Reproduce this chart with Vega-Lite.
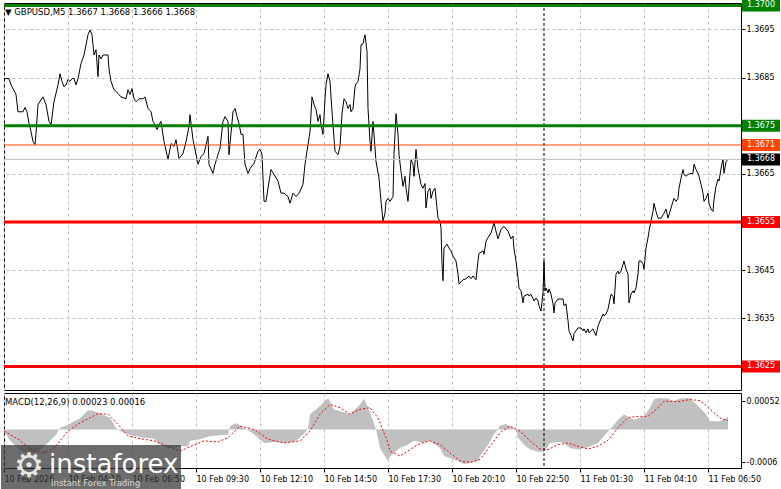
{
"$schema":"https://vega.github.io/schema/vega-lite/v6.json",
"background":"white",
"padding":{"left":0,"top":-2,"right":0,"bottom":0},
"spacing":1,
"config":{
"view":{"stroke":"black","strokeWidth":1},
"axis":{"labelFont":"DejaVu Sans","labelFontSize":8,"labelColor":"black","tickColor":"black","tickSize":4,"labelPadding":1,"domain":false,"gridColor":"#c0c0c0","gridDash":[3,3],"gridWidth":1},
"title":{"font":"DejaVu Sans","fontSize":8.5,"fontWeight":"normal","color":"black","anchor":"start"}
},
"datasets":{
"price":[
{"t":"2026-02-10T01:30:00Z","p":1.36848},{"t":"2026-02-10T01:42:30Z","p":1.36848},{"t":"2026-02-10T01:47:30Z","p":1.36835},{"t":"2026-02-10T02:00:00Z","p":1.36815},{"t":"2026-02-10T02:05:00Z","p":1.36779},{"t":"2026-02-10T02:17:30Z","p":1.36779},{"t":"2026-02-10T02:22:30Z","p":1.36788},{"t":"2026-02-10T02:27:30Z","p":1.36779},{"t":"2026-02-10T02:32:30Z","p":1.36755},{"t":"2026-02-10T02:37:30Z","p":1.36738},{"t":"2026-02-10T02:42:30Z","p":1.36717},{"t":"2026-02-10T02:47:30Z","p":1.36711},{"t":"2026-02-10T02:50:00Z","p":1.36734},{"t":"2026-02-10T02:55:00Z","p":1.36794},{"t":"2026-02-10T03:07:30Z","p":1.3681},{"t":"2026-02-10T03:15:00Z","p":1.36794},{"t":"2026-02-10T03:22:30Z","p":1.36759},{"t":"2026-02-10T03:27:30Z","p":1.36752},{"t":"2026-02-10T03:35:00Z","p":1.368},{"t":"2026-02-10T03:45:00Z","p":1.36835},{"t":"2026-02-10T03:50:00Z","p":1.36858},{"t":"2026-02-10T03:55:00Z","p":1.36842},{"t":"2026-02-10T04:00:00Z","p":1.36831},{"t":"2026-02-10T04:05:00Z","p":1.36835},{"t":"2026-02-10T04:10:00Z","p":1.36846},{"t":"2026-02-10T04:15:00Z","p":1.36842},{"t":"2026-02-10T04:20:00Z","p":1.36848},{"t":"2026-02-10T04:25:00Z","p":1.36848},{"t":"2026-02-10T04:30:00Z","p":1.36835},{"t":"2026-02-10T04:35:00Z","p":1.36848},{"t":"2026-02-10T04:42:30Z","p":1.36879},{"t":"2026-02-10T04:50:00Z","p":1.36897},{"t":"2026-02-10T05:00:00Z","p":1.36939},{"t":"2026-02-10T05:05:00Z","p":1.36949},{"t":"2026-02-10T05:10:00Z","p":1.36939},{"t":"2026-02-10T05:15:00Z","p":1.36897},{"t":"2026-02-10T05:20:00Z","p":1.36908},{"t":"2026-02-10T05:25:00Z","p":1.36852},{"t":"2026-02-10T05:27:30Z","p":1.36897},{"t":"2026-02-10T05:32:30Z","p":1.36889},{"t":"2026-02-10T05:37:30Z","p":1.36897},{"t":"2026-02-10T05:45:00Z","p":1.36897},{"t":"2026-02-10T05:50:00Z","p":1.36897},{"t":"2026-02-10T05:52:30Z","p":1.36868},{"t":"2026-02-10T05:57:30Z","p":1.36842},{"t":"2026-02-10T06:05:00Z","p":1.36825},{"t":"2026-02-10T06:15:00Z","p":1.36817},{"t":"2026-02-10T06:22:30Z","p":1.3681},{"t":"2026-02-10T06:35:00Z","p":1.36806},{"t":"2026-02-10T06:40:00Z","p":1.36825},{"t":"2026-02-10T06:45:00Z","p":1.36815},{"t":"2026-02-10T06:50:00Z","p":1.36827},{"t":"2026-02-10T06:55:00Z","p":1.36806},{"t":"2026-02-10T07:00:00Z","p":1.368},{"t":"2026-02-10T07:07:30Z","p":1.36806},{"t":"2026-02-10T07:17:30Z","p":1.36806},{"t":"2026-02-10T07:22:30Z","p":1.3681},{"t":"2026-02-10T07:30:00Z","p":1.36786},{"t":"2026-02-10T07:37:30Z","p":1.36779},{"t":"2026-02-10T07:42:30Z","p":1.36759},{"t":"2026-02-10T07:47:30Z","p":1.36752},{"t":"2026-02-10T07:52:30Z","p":1.36742},{"t":"2026-02-10T07:57:30Z","p":1.36752},{"t":"2026-02-10T08:02:30Z","p":1.36759},{"t":"2026-02-10T08:10:00Z","p":1.36717},{"t":"2026-02-10T08:20:00Z","p":1.3668},{"t":"2026-02-10T08:27:30Z","p":1.36713},{"t":"2026-02-10T08:35:00Z","p":1.36707},{"t":"2026-02-10T08:40:00Z","p":1.36721},{"t":"2026-02-10T08:47:30Z","p":1.36682},{"t":"2026-02-10T08:57:30Z","p":1.36692},{"t":"2026-02-10T09:05:00Z","p":1.36717},{"t":"2026-02-10T09:12:30Z","p":1.36748},{"t":"2026-02-10T09:15:00Z","p":1.36773},{"t":"2026-02-10T09:22:30Z","p":1.36721},{"t":"2026-02-10T09:35:00Z","p":1.3667},{"t":"2026-02-10T09:42:30Z","p":1.36686},{"t":"2026-02-10T09:50:00Z","p":1.36692},{"t":"2026-02-10T10:00:00Z","p":1.36728},{"t":"2026-02-10T10:02:30Z","p":1.3667},{"t":"2026-02-10T10:12:30Z","p":1.36651},{"t":"2026-02-10T10:17:30Z","p":1.3667},{"t":"2026-02-10T10:25:00Z","p":1.3669},{"t":"2026-02-10T10:30:00Z","p":1.36703},{"t":"2026-02-10T10:37:30Z","p":1.36759},{"t":"2026-02-10T10:42:30Z","p":1.36769},{"t":"2026-02-10T10:50:00Z","p":1.36759},{"t":"2026-02-10T10:52:30Z","p":1.3669},{"t":"2026-02-10T11:02:30Z","p":1.36779},{"t":"2026-02-10T11:07:30Z","p":1.36786},{"t":"2026-02-10T11:12:30Z","p":1.36769},{"t":"2026-02-10T11:17:30Z","p":1.36755},{"t":"2026-02-10T11:22:30Z","p":1.36732},{"t":"2026-02-10T11:27:30Z","p":1.36732},{"t":"2026-02-10T11:32:30Z","p":1.3667},{"t":"2026-02-10T11:40:00Z","p":1.36651},{"t":"2026-02-10T11:45:00Z","p":1.36661},{"t":"2026-02-10T11:55:00Z","p":1.36672},{"t":"2026-02-10T12:05:00Z","p":1.36697},{"t":"2026-02-10T12:10:00Z","p":1.36701},{"t":"2026-02-10T12:15:00Z","p":1.3669},{"t":"2026-02-10T12:20:00Z","p":1.36593},{"t":"2026-02-10T12:25:00Z","p":1.36593},{"t":"2026-02-10T12:30:00Z","p":1.3662},{"t":"2026-02-10T12:37:30Z","p":1.36659},{"t":"2026-02-10T12:45:00Z","p":1.36649},{"t":"2026-02-10T12:55:00Z","p":1.36635},{"t":"2026-02-10T13:02:30Z","p":1.3661},{"t":"2026-02-10T13:10:00Z","p":1.3661},{"t":"2026-02-10T13:20:00Z","p":1.36603},{"t":"2026-02-10T13:25:00Z","p":1.36589},{"t":"2026-02-10T13:32:30Z","p":1.3661},{"t":"2026-02-10T13:40:00Z","p":1.36603},{"t":"2026-02-10T13:47:30Z","p":1.3661},{"t":"2026-02-10T13:57:30Z","p":1.36628},{"t":"2026-02-10T14:02:30Z","p":1.3667},{"t":"2026-02-10T14:10:00Z","p":1.36711},{"t":"2026-02-10T14:15:00Z","p":1.36738},{"t":"2026-02-10T14:20:00Z","p":1.3681},{"t":"2026-02-10T14:25:00Z","p":1.36794},{"t":"2026-02-10T14:30:00Z","p":1.36784},{"t":"2026-02-10T14:35:00Z","p":1.36759},{"t":"2026-02-10T14:40:00Z","p":1.36773},{"t":"2026-02-10T14:42:30Z","p":1.36752},{"t":"2026-02-10T14:47:30Z","p":1.36732},{"t":"2026-02-10T14:52:30Z","p":1.36806},{"t":"2026-02-10T14:55:00Z","p":1.36835},{"t":"2026-02-10T15:00:00Z","p":1.36858},{"t":"2026-02-10T15:05:00Z","p":1.36842},{"t":"2026-02-10T15:10:00Z","p":1.36779},{"t":"2026-02-10T15:12:30Z","p":1.36752},{"t":"2026-02-10T15:17:30Z","p":1.36697},{"t":"2026-02-10T15:25:00Z","p":1.3669},{"t":"2026-02-10T15:30:00Z","p":1.36707},{"t":"2026-02-10T15:35:00Z","p":1.36775},{"t":"2026-02-10T15:40:00Z","p":1.36806},{"t":"2026-02-10T15:45:00Z","p":1.368},{"t":"2026-02-10T15:50:00Z","p":1.36786},{"t":"2026-02-10T15:55:00Z","p":1.36794},{"t":"2026-02-10T15:57:30Z","p":1.36779},{"t":"2026-02-10T16:02:30Z","p":1.36786},{"t":"2026-02-10T16:07:30Z","p":1.36831},{"t":"2026-02-10T16:10:00Z","p":1.36837},{"t":"2026-02-10T16:15:00Z","p":1.36842},{"t":"2026-02-10T16:20:00Z","p":1.36868},{"t":"2026-02-10T16:22:30Z","p":1.36918},{"t":"2026-02-10T16:27:30Z","p":1.3692},{"t":"2026-02-10T16:30:00Z","p":1.36931},{"t":"2026-02-10T16:32:30Z","p":1.36939},{"t":"2026-02-10T16:37:30Z","p":1.36904},{"t":"2026-02-10T16:40:00Z","p":1.36786},{"t":"2026-02-10T16:42:30Z","p":1.36752},{"t":"2026-02-10T16:45:00Z","p":1.36717},{"t":"2026-02-10T16:47:30Z","p":1.36697},{"t":"2026-02-10T16:52:30Z","p":1.36759},{"t":"2026-02-10T17:00:00Z","p":1.36676},{"t":"2026-02-10T17:07:30Z","p":1.36641},{"t":"2026-02-10T17:12:30Z","p":1.36593},{"t":"2026-02-10T17:17:30Z","p":1.36552},{"t":"2026-02-10T17:22:30Z","p":1.36568},{"t":"2026-02-10T17:25:00Z","p":1.36593},{"t":"2026-02-10T17:30:00Z","p":1.36599},{"t":"2026-02-10T17:35:00Z","p":1.36593},{"t":"2026-02-10T17:42:30Z","p":1.36603},{"t":"2026-02-10T17:45:00Z","p":1.3669},{"t":"2026-02-10T17:50:00Z","p":1.36775},{"t":"2026-02-10T17:55:00Z","p":1.36732},{"t":"2026-02-10T17:57:30Z","p":1.3669},{"t":"2026-02-10T18:02:30Z","p":1.36655},{"t":"2026-02-10T18:07:30Z","p":1.36624},{"t":"2026-02-10T18:12:30Z","p":1.36645},{"t":"2026-02-10T18:15:00Z","p":1.3662},{"t":"2026-02-10T18:20:00Z","p":1.36593},{"t":"2026-02-10T18:27:30Z","p":1.3668},{"t":"2026-02-10T18:32:30Z","p":1.3667},{"t":"2026-02-10T18:35:00Z","p":1.36645},{"t":"2026-02-10T18:40:00Z","p":1.36701},{"t":"2026-02-10T18:45:00Z","p":1.36661},{"t":"2026-02-10T18:52:30Z","p":1.36628},{"t":"2026-02-10T18:57:30Z","p":1.3662},{"t":"2026-02-10T19:02:30Z","p":1.3663},{"t":"2026-02-10T19:05:00Z","p":1.36579},{"t":"2026-02-10T19:10:00Z","p":1.36614},{"t":"2026-02-10T19:15:00Z","p":1.3662},{"t":"2026-02-10T19:17:30Z","p":1.36599},{"t":"2026-02-10T19:22:30Z","p":1.36614},{"t":"2026-02-10T19:27:30Z","p":1.3662},{"t":"2026-02-10T19:30:00Z","p":1.36599},{"t":"2026-02-10T19:35:00Z","p":1.36558},{"t":"2026-02-10T19:40:00Z","p":1.36552},{"t":"2026-02-10T19:42:30Z","p":1.36537},{"t":"2026-02-10T19:45:00Z","p":1.36463},{"t":"2026-02-10T19:47:30Z","p":1.36428},{"t":"2026-02-10T19:50:00Z","p":1.36496},{"t":"2026-02-10T19:57:30Z","p":1.36504},{"t":"2026-02-10T20:02:30Z","p":1.36496},{"t":"2026-02-10T20:07:30Z","p":1.3649},{"t":"2026-02-10T20:12:30Z","p":1.36479},{"t":"2026-02-10T20:20:00Z","p":1.36469},{"t":"2026-02-10T20:25:00Z","p":1.36442},{"t":"2026-02-10T20:27:30Z","p":1.36421},{"t":"2026-02-10T20:37:30Z","p":1.3643},{"t":"2026-02-10T20:45:00Z","p":1.36432},{"t":"2026-02-10T20:52:30Z","p":1.36438},{"t":"2026-02-10T20:57:30Z","p":1.36432},{"t":"2026-02-10T21:02:30Z","p":1.36438},{"t":"2026-02-10T21:10:00Z","p":1.3643},{"t":"2026-02-10T21:15:00Z","p":1.36469},{"t":"2026-02-10T21:17:30Z","p":1.36485},{"t":"2026-02-10T21:27:30Z","p":1.3649},{"t":"2026-02-10T21:30:00Z","p":1.36483},{"t":"2026-02-10T21:35:00Z","p":1.3651},{"t":"2026-02-10T21:42:30Z","p":1.36521},{"t":"2026-02-10T21:47:30Z","p":1.36527},{"t":"2026-02-10T21:55:00Z","p":1.36548},{"t":"2026-02-10T22:00:00Z","p":1.36531},{"t":"2026-02-10T22:05:00Z","p":1.36515},{"t":"2026-02-10T22:12:30Z","p":1.36535},{"t":"2026-02-10T22:20:00Z","p":1.36541},{"t":"2026-02-10T22:30:00Z","p":1.36531},{"t":"2026-02-10T22:37:30Z","p":1.36515},{"t":"2026-02-10T22:42:30Z","p":1.36521},{"t":"2026-02-10T22:45:00Z","p":1.36494},{"t":"2026-02-10T22:50:00Z","p":1.36469},{"t":"2026-02-10T22:55:00Z","p":1.36434},{"t":"2026-02-10T22:57:30Z","p":1.36413},{"t":"2026-02-10T23:02:30Z","p":1.36407},{"t":"2026-02-10T23:07:30Z","p":1.36382},{"t":"2026-02-10T23:10:00Z","p":1.36396},{"t":"2026-02-10T23:20:00Z","p":1.364},{"t":"2026-02-10T23:22:30Z","p":1.36396},{"t":"2026-02-10T23:27:30Z","p":1.364},{"t":"2026-02-10T23:35:00Z","p":1.36386},{"t":"2026-02-10T23:40:00Z","p":1.36392},{"t":"2026-02-10T23:45:00Z","p":1.36386},{"t":"2026-02-10T23:47:30Z","p":1.36376},{"t":"2026-02-10T23:52:30Z","p":1.36365},{"t":"2026-02-10T23:57:30Z","p":1.36403},{"t":"2026-02-11T00:00:00Z","p":1.36469},{"t":"2026-02-11T00:02:30Z","p":1.36407},{"t":"2026-02-11T00:05:00Z","p":1.36413},{"t":"2026-02-11T00:10:00Z","p":1.36403},{"t":"2026-02-11T00:12:30Z","p":1.36411},{"t":"2026-02-11T00:17:30Z","p":1.364},{"t":"2026-02-11T00:22:30Z","p":1.3638},{"t":"2026-02-11T00:25:00Z","p":1.36361},{"t":"2026-02-11T00:27:30Z","p":1.36382},{"t":"2026-02-11T00:35:00Z","p":1.3639},{"t":"2026-02-11T00:42:30Z","p":1.3639},{"t":"2026-02-11T00:47:30Z","p":1.3639},{"t":"2026-02-11T00:50:00Z","p":1.36376},{"t":"2026-02-11T00:55:00Z","p":1.3638},{"t":"2026-02-11T01:00:00Z","p":1.36345},{"t":"2026-02-11T01:02:30Z","p":1.36324},{"t":"2026-02-11T01:07:30Z","p":1.36314},{"t":"2026-02-11T01:12:30Z","p":1.36303},{"t":"2026-02-11T01:15:00Z","p":1.36318},{"t":"2026-02-11T01:25:00Z","p":1.3633},{"t":"2026-02-11T01:32:30Z","p":1.3633},{"t":"2026-02-11T01:37:30Z","p":1.36324},{"t":"2026-02-11T01:40:00Z","p":1.36328},{"t":"2026-02-11T01:45:00Z","p":1.3632},{"t":"2026-02-11T01:50:00Z","p":1.36328},{"t":"2026-02-11T01:52:30Z","p":1.3632},{"t":"2026-02-11T02:02:30Z","p":1.36328},{"t":"2026-02-11T02:10:00Z","p":1.36314},{"t":"2026-02-11T02:15:00Z","p":1.36334},{"t":"2026-02-11T02:22:30Z","p":1.36349},{"t":"2026-02-11T02:27:30Z","p":1.36359},{"t":"2026-02-11T02:30:00Z","p":1.36355},{"t":"2026-02-11T02:35:00Z","p":1.36359},{"t":"2026-02-11T02:40:00Z","p":1.36369},{"t":"2026-02-11T02:47:30Z","p":1.364},{"t":"2026-02-11T02:52:30Z","p":1.36396},{"t":"2026-02-11T02:55:00Z","p":1.3638},{"t":"2026-02-11T03:00:00Z","p":1.36442},{"t":"2026-02-11T03:05:00Z","p":1.36448},{"t":"2026-02-11T03:07:30Z","p":1.36442},{"t":"2026-02-11T03:12:30Z","p":1.36448},{"t":"2026-02-11T03:20:00Z","p":1.36469},{"t":"2026-02-11T03:25:00Z","p":1.36452},{"t":"2026-02-11T03:30:00Z","p":1.36442},{"t":"2026-02-11T03:32:30Z","p":1.36382},{"t":"2026-02-11T03:37:30Z","p":1.364},{"t":"2026-02-11T03:42:30Z","p":1.36407},{"t":"2026-02-11T03:45:00Z","p":1.36403},{"t":"2026-02-11T03:50:00Z","p":1.36413},{"t":"2026-02-11T03:55:00Z","p":1.36442},{"t":"2026-02-11T03:57:30Z","p":1.36469},{"t":"2026-02-11T04:02:30Z","p":1.36469},{"t":"2026-02-11T04:07:30Z","p":1.36463},{"t":"2026-02-11T04:10:00Z","p":1.36452},{"t":"2026-02-11T04:15:00Z","p":1.36496},{"t":"2026-02-11T04:20:00Z","p":1.36517},{"t":"2026-02-11T04:22:30Z","p":1.36531},{"t":"2026-02-11T04:27:30Z","p":1.36552},{"t":"2026-02-11T04:32:30Z","p":1.36572},{"t":"2026-02-11T04:35:00Z","p":1.36589},{"t":"2026-02-11T04:40:00Z","p":1.36572},{"t":"2026-02-11T04:45:00Z","p":1.36558},{"t":"2026-02-11T04:52:30Z","p":1.36558},{"t":"2026-02-11T05:00:00Z","p":1.36568},{"t":"2026-02-11T05:05:00Z","p":1.36577},{"t":"2026-02-11T05:10:00Z","p":1.36558},{"t":"2026-02-11T05:17:30Z","p":1.36579},{"t":"2026-02-11T05:22:30Z","p":1.36593},{"t":"2026-02-11T05:25:00Z","p":1.36599},{"t":"2026-02-11T05:30:00Z","p":1.36593},{"t":"2026-02-11T05:35:00Z","p":1.36599},{"t":"2026-02-11T05:37:30Z","p":1.3662},{"t":"2026-02-11T05:42:30Z","p":1.36641},{"t":"2026-02-11T05:47:30Z","p":1.36659},{"t":"2026-02-11T05:50:00Z","p":1.36649},{"t":"2026-02-11T05:55:00Z","p":1.36645},{"t":"2026-02-11T06:00:00Z","p":1.36649},{"t":"2026-02-11T06:07:30Z","p":1.36651},{"t":"2026-02-11T06:12:30Z","p":1.36651},{"t":"2026-02-11T06:15:00Z","p":1.3667},{"t":"2026-02-11T06:20:00Z","p":1.36659},{"t":"2026-02-11T06:25:00Z","p":1.36651},{"t":"2026-02-11T06:27:30Z","p":1.36645},{"t":"2026-02-11T06:32:30Z","p":1.36628},{"t":"2026-02-11T06:37:30Z","p":1.3661},{"t":"2026-02-11T06:40:00Z","p":1.36593},{"t":"2026-02-11T06:45:00Z","p":1.36599},{"t":"2026-02-11T06:50:00Z","p":1.3661},{"t":"2026-02-11T06:52:30Z","p":1.36589},{"t":"2026-02-11T06:57:30Z","p":1.36577},{"t":"2026-02-11T07:02:30Z","p":1.36572},{"t":"2026-02-11T07:05:00Z","p":1.36597},{"t":"2026-02-11T07:10:00Z","p":1.36624},{"t":"2026-02-11T07:15:00Z","p":1.36639},{"t":"2026-02-11T07:17:30Z","p":1.36635},{"t":"2026-02-11T07:22:30Z","p":1.36661},{"t":"2026-02-11T07:27:30Z","p":1.3668},{"t":"2026-02-11T07:30:00Z","p":1.36651},{"t":"2026-02-11T07:35:00Z","p":1.36676},{"t":"2026-02-11T07:40:00Z","p":1.3668}
],
"hist":[
{"t":"2026-02-10T01:30Z","v":-0.00003},{"t":"2026-02-10T01:45Z","v":-0.0002},{"t":"2026-02-10T02:05Z","v":-0.00035},{"t":"2026-02-10T02:30Z","v":-0.00045},{"t":"2026-02-10T02:55Z","v":-0.0004},{"t":"2026-02-10T03:20Z","v":-0.00025},{"t":"2026-02-10T03:40Z","v":-0.0001},{"t":"2026-02-10T03:50Z","v":0.00003},{"t":"2026-02-10T04:10Z","v":0.00008},{"t":"2026-02-10T04:25Z","v":0.00015},{"t":"2026-02-10T04:40Z","v":0.0002},{"t":"2026-02-10T04:50Z","v":0.00028},{"t":"2026-02-10T05:00Z","v":0.00035},{"t":"2026-02-10T05:10Z","v":0.00035},{"t":"2026-02-10T05:25Z","v":0.00031},{"t":"2026-02-10T05:40Z","v":0.00026},{"t":"2026-02-10T05:55Z","v":0.00021},{"t":"2026-02-10T06:10Z","v":0.00003},{"t":"2026-02-10T06:20Z","v":-0.00003},{"t":"2026-02-10T06:40Z","v":-0.00009},{"t":"2026-02-10T06:55Z","v":-0.00012},{"t":"2026-02-10T07:20Z","v":-0.00015},{"t":"2026-02-10T07:45Z","v":-0.00017},{"t":"2026-02-10T08:00Z","v":-0.00028},{"t":"2026-02-10T08:20Z","v":-0.00034},{"t":"2026-02-10T08:35Z","v":-0.00034},{"t":"2026-02-10T08:50Z","v":-0.00031},{"t":"2026-02-10T09:10Z","v":-0.00031},{"t":"2026-02-10T09:15Z","v":-0.00021},{"t":"2026-02-10T09:40Z","v":-0.00018},{"t":"2026-02-10T10:05Z","v":-0.00012},{"t":"2026-02-10T10:50Z","v":-0.0001},{"t":"2026-02-10T10:55Z","v":0.00006},{"t":"2026-02-10T11:10Z","v":0.00012},{"t":"2026-02-10T11:30Z","v":0.00003},{"t":"2026-02-10T11:55Z","v":-0.00009},{"t":"2026-02-10T12:20Z","v":-0.00025},{"t":"2026-02-10T12:45Z","v":-0.00023},{"t":"2026-02-10T13:10Z","v":-0.00025},{"t":"2026-02-10T13:35Z","v":-0.00023},{"t":"2026-02-10T13:50Z","v":-0.00015},{"t":"2026-02-10T14:10Z","v":0.0},{"t":"2026-02-10T14:15Z","v":0.00028},{"t":"2026-02-10T14:40Z","v":0.00043},{"t":"2026-02-10T15:00Z","v":0.00058},{"t":"2026-02-10T15:15Z","v":0.00037},{"t":"2026-02-10T15:40Z","v":0.00031},{"t":"2026-02-10T15:55Z","v":0.00028},{"t":"2026-02-10T16:20Z","v":0.00046},{"t":"2026-02-10T16:30Z","v":0.00057},{"t":"2026-02-10T16:40Z","v":0.0004},{"t":"2026-02-10T16:50Z","v":0.00021},{"t":"2026-02-10T17:00Z","v":0.0},{"t":"2026-02-10T17:10Z","v":-0.00034},{"t":"2026-02-10T17:30Z","v":-0.00058},{"t":"2026-02-10T17:35Z","v":-0.0005},{"t":"2026-02-10T17:50Z","v":-0.0004},{"t":"2026-02-10T18:00Z","v":-0.00034},{"t":"2026-02-10T18:20Z","v":-0.00028},{"t":"2026-02-10T18:35Z","v":-0.00021},{"t":"2026-02-10T19:00Z","v":-0.00025},{"t":"2026-02-10T19:15Z","v":-0.00021},{"t":"2026-02-10T19:40Z","v":-0.00034},{"t":"2026-02-10T19:50Z","v":-0.00049},{"t":"2026-02-10T20:25Z","v":-0.00058},{"t":"2026-02-10T20:40Z","v":-0.00064},{"t":"2026-02-10T21:15Z","v":-0.00058},{"t":"2026-02-10T21:20Z","v":-0.00049},{"t":"2026-02-10T21:40Z","v":-0.00028},{"t":"2026-02-10T21:55Z","v":-0.00009},{"t":"2026-02-10T22:05Z","v":0.0},{"t":"2026-02-10T22:10Z","v":0.00007},{"t":"2026-02-10T22:25Z","v":0.0001},{"t":"2026-02-10T22:35Z","v":0.00006},{"t":"2026-02-10T22:50Z","v":0.0},{"t":"2026-02-10T22:55Z","v":-0.00015},{"t":"2026-02-10T23:10Z","v":-0.00028},{"t":"2026-02-10T23:25Z","v":-0.00037},{"t":"2026-02-10T23:45Z","v":-0.00041},{"t":"2026-02-11T00:00Z","v":-0.00041},{"t":"2026-02-11T00:15Z","v":-0.00025},{"t":"2026-02-11T00:35Z","v":-0.00023},{"t":"2026-02-11T00:50Z","v":-0.00025},{"t":"2026-02-11T01:05Z","v":-0.00034},{"t":"2026-02-11T01:25Z","v":-0.00037},{"t":"2026-02-11T01:50Z","v":-0.00033},{"t":"2026-02-11T02:15Z","v":-0.00025},{"t":"2026-02-11T02:30Z","v":-0.00012},{"t":"2026-02-11T02:45Z","v":0.0},{"t":"2026-02-11T03:05Z","v":0.00018},{"t":"2026-02-11T03:20Z","v":0.00028},{"t":"2026-02-11T03:35Z","v":0.00021},{"t":"2026-02-11T03:45Z","v":0.00018},{"t":"2026-02-11T04:10Z","v":0.00024},{"t":"2026-02-11T04:25Z","v":0.0004},{"t":"2026-02-11T04:35Z","v":0.00055},{"t":"2026-02-11T04:45Z","v":0.00058},{"t":"2026-02-11T05:10Z","v":0.00057},{"t":"2026-02-11T05:25Z","v":0.00052},{"t":"2026-02-11T05:40Z","v":0.00057},{"t":"2026-02-11T06:05Z","v":0.00058},{"t":"2026-02-11T06:30Z","v":0.0004},{"t":"2026-02-11T06:45Z","v":0.00028},{"t":"2026-02-11T06:55Z","v":0.00015},{"t":"2026-02-11T07:20Z","v":0.00015},{"t":"2026-02-11T07:40Z","v":0.00023}
],
"sig":[
{"t":"2026-02-10T01:30Z","v":-0.00003},{"t":"2026-02-10T02:05Z","v":-0.00018},{"t":"2026-02-10T02:45Z","v":-0.0004},{"t":"2026-02-10T03:10Z","v":-0.00043},{"t":"2026-02-10T03:35Z","v":-0.00034},{"t":"2026-02-10T04:10Z","v":-0.00003},{"t":"2026-02-10T04:40Z","v":0.00012},{"t":"2026-02-10T05:25Z","v":0.00029},{"t":"2026-02-10T05:50Z","v":0.00028},{"t":"2026-02-10T06:15Z","v":0.00009},{"t":"2026-02-10T06:40Z","v":-0.00012},{"t":"2026-02-10T07:10Z","v":-0.00017},{"t":"2026-02-10T07:45Z","v":-0.00021},{"t":"2026-02-10T08:20Z","v":-0.00031},{"t":"2026-02-10T08:50Z","v":-0.0004},{"t":"2026-02-10T09:15Z","v":-0.00032},{"t":"2026-02-10T09:50Z","v":-0.00021},{"t":"2026-02-10T10:25Z","v":-0.00023},{"t":"2026-02-10T10:50Z","v":-0.00015},{"t":"2026-02-10T11:20Z","v":0.00006},{"t":"2026-02-10T11:55Z","v":0.0},{"t":"2026-02-10T12:30Z","v":-0.00018},{"t":"2026-02-10T13:10Z","v":-0.00025},{"t":"2026-02-10T13:50Z","v":-0.00021},{"t":"2026-02-10T14:15Z","v":-0.00003},{"t":"2026-02-10T14:40Z","v":0.00028},{"t":"2026-02-10T15:05Z","v":0.00046},{"t":"2026-02-10T15:30Z","v":0.0004},{"t":"2026-02-10T15:55Z","v":0.00028},{"t":"2026-02-10T16:20Z","v":0.00037},{"t":"2026-02-10T16:45Z","v":0.0004},{"t":"2026-02-10T17:05Z","v":0.00021},{"t":"2026-02-10T17:30Z","v":-0.00025},{"t":"2026-02-10T17:35Z","v":-0.0004},{"t":"2026-02-10T18:00Z","v":-0.00049},{"t":"2026-02-10T18:25Z","v":-0.00037},{"t":"2026-02-10T18:50Z","v":-0.00026},{"t":"2026-02-10T19:15Z","v":-0.00021},{"t":"2026-02-10T19:40Z","v":-0.00028},{"t":"2026-02-10T20:05Z","v":-0.00043},{"t":"2026-02-10T20:30Z","v":-0.00058},{"t":"2026-02-10T20:55Z","v":-0.00061},{"t":"2026-02-10T21:20Z","v":-0.00055},{"t":"2026-02-10T21:45Z","v":-0.00031},{"t":"2026-02-10T22:10Z","v":-0.00006},{"t":"2026-02-10T22:35Z","v":0.00006},{"t":"2026-02-10T23:00Z","v":-0.00003},{"t":"2026-02-10T23:25Z","v":-0.00021},{"t":"2026-02-10T23:50Z","v":-0.00036},{"t":"2026-02-11T00:10Z","v":-0.00037},{"t":"2026-02-11T00:35Z","v":-0.00028},{"t":"2026-02-11T01:00Z","v":-0.00025},{"t":"2026-02-11T01:25Z","v":-0.00031},{"t":"2026-02-11T01:50Z","v":-0.00036},{"t":"2026-02-11T02:15Z","v":-0.00031},{"t":"2026-02-11T02:40Z","v":-0.0002},{"t":"2026-02-11T03:05Z","v":0.00003},{"t":"2026-02-11T03:30Z","v":0.00022},{"t":"2026-02-11T03:55Z","v":0.00024},{"t":"2026-02-11T04:20Z","v":0.00024},{"t":"2026-02-11T04:45Z","v":0.0004},{"t":"2026-02-11T05:00Z","v":0.00052},{"t":"2026-02-11T05:35Z","v":0.00051},{"t":"2026-02-11T06:05Z","v":0.00055},{"t":"2026-02-11T06:30Z","v":0.00053},{"t":"2026-02-11T06:55Z","v":0.00037},{"t":"2026-02-11T07:20Z","v":0.00021},{"t":"2026-02-11T07:40Z","v":0.00016}
],
"levels":[
{"price":1.37,"type":"buy"},{"price":1.3675,"type":"buy"},{"price":1.3671,"type":"ask"},{"price":1.3668,"type":"bid"},{"price":1.3655,"type":"sell"},{"price":1.3625,"type":"sell"}
],
"days":[{"t":"2026-02-11T00:00Z"}],
"brand":[{"name":"instaforex","tagline":"Instant Forex Trading","icon":"⚙"}]
},
"vconcat":[
{
"width":737,"height":387,
"title":{"text":"▼  GBPUSD,M5  1.3667 1.3668 1.3666 1.3668","offset":-17.5,"dx":3},
"resolve":{"scale":{"stroke":"independent"}},
"layer":[
{"data":{"name":"price"},"mark":{"type":"line","color":"black","strokeWidth":1},
"encoding":{
"x":{"field":"t","type":"temporal","scale":{"type":"utc","domain":[1770687000000,1770797550000]},
"axis":{"title":null,"labels":false,"ticks":false,"grid":true,"values":[1770687000000,1770691800000,1770696600000,1770701400000,1770706200000,1770711000000,1770715800000,1770720600000,1770725400000,1770730200000,1770735000000,1770739800000,1770744600000,1770749400000,1770754200000,1770759000000,1770763800000,1770768600000,1770773400000,1770778200000,1770783000000,1770787800000,1770792600000,1770797400000]}},
"y":{"field":"p","type":"quantitative","scale":{"domain":[1.36201,1.37005],"zero":false,"nice":false},
"axis":{"title":null,"orient":"right","values":[1.3625,1.3635,1.3645,1.3655,1.3665,1.3675,1.3685,1.3695],"format":".4f","grid":true,"labelOverlap":false}}
}},
{"data":{"name":"days"},"mark":{"type":"rule","color":"black","strokeDash":[3,2],"strokeWidth":1},
"encoding":{"x":{"field":"t","type":"temporal"}}},
{"data":{"name":"levels"},"transform":[{"filter":"datum.type == 'ask' || datum.type == 'bid'"}],
"mark":{"type":"rule","strokeWidth":1},
"encoding":{
"y":{"field":"price","type":"quantitative"},
"stroke":{"field":"type","type":"nominal","scale":{"domain":["buy","sell","ask","bid"],"range":["#008000","#ff0000","#ff4500","#c0c0c0"]},"legend":null}
}},
{"data":{"name":"levels"},"transform":[{"filter":"datum.type == 'buy' || datum.type == 'sell'"}],
"mark":{"type":"rule","strokeWidth":3,"strokeCap":"butt"},
"encoding":{
"y":{"field":"price","type":"quantitative"},
"stroke":{"field":"type","type":"nominal","scale":{"domain":["buy","sell","ask","bid"],"range":["#008000","#ff0000","#ff4500","#c0c0c0"]},"legend":null}
}},
{"data":{"name":"levels"},"mark":{"type":"rule","strokeWidth":12,"strokeCap":"butt"},
"encoding":{
"x":{"datum":{"year":2026,"month":2,"date":11,"hours":8,"minutes":15,"utc":true},"type":"temporal"},
"x2":{"datum":{"year":2026,"month":2,"date":11,"hours":9,"minutes":50,"utc":true}},
"y":{"field":"price","type":"quantitative"},
"stroke":{"field":"type","type":"nominal","scale":{"domain":["buy","sell","ask","bid"],"range":["#008000","#ff0000","#ff4500","#000000"]},"legend":null}
}},
{"data":{"name":"levels"},"mark":{"type":"text","color":"white","font":"DejaVu Sans","fontSize":8,"align":"center","baseline":"middle"},
"encoding":{
"x":{"datum":{"year":2026,"month":2,"date":11,"hours":9,"minutes":2,"seconds":30,"utc":true},"type":"temporal"},
"y":{"field":"price","type":"quantitative"},
"text":{"field":"price","type":"quantitative","format":".4f"}
}}
]
},
{
"width":737,"height":75,
"title":{"text":"MACD(12,26,9) 0.00023 0.00016","offset":-14,"dx":4},
"layer":[
{"data":{"name":"hist"},"mark":{"type":"area","color":"#c0c0c0"},
"encoding":{
"x":{"field":"t","type":"temporal","scale":{"type":"utc","domain":[1770687000000,1770797550000]},
"axis":{"title":null,"grid":true,"labelAlign":"left","labelPadding":3,"labelOverlap":false,"labelFlush":false,"labelBound":false,
"values":[1770687000000,1770691800000,1770696600000,1770701400000,1770706200000,1770711000000,1770715800000,1770720600000,1770725400000,1770730200000,1770735000000,1770739800000,1770744600000,1770749400000,1770754200000,1770759000000,1770763800000,1770768600000,1770773400000,1770778200000,1770783000000,1770787800000,1770792600000,1770797400000],
"labelExpr":"(datum.value - 1770687000000) == 0 ? '10 Feb 2026' : ((datum.value - 1770687000000) % 9600000 == 0 ? utcFormat(datum.value, '%d %b %H:%M') : '')",
"tickOpacity":{"condition":{"test":"(datum.value - 1770687000000) % 9600000 != 0","value":0},"value":1}}},
"y":{"field":"v","type":"quantitative","scale":{"domain":[-0.00071,0.00067],"zero":false,"nice":false},
"axis":{"title":null,"orient":"right","values":[-0.0006,0,0.00052],"labelExpr":"datum.value > 0.0001 ? '0.00052' : (datum.value < -0.0001 ? '-0.0006' : '0.00')","grid":true,
"gridColor":{"condition":{"test":"datum.value == 0","value":"#c0c0c0"},"value":"transparent"}}},
"y2":{"datum":0}
}},
{"data":{"name":"sig"},"mark":{"type":"line","color":"#ff0000","strokeDash":[2,2],"strokeWidth":1},
"encoding":{"x":{"field":"t","type":"temporal"},"y":{"field":"v","type":"quantitative"}}},
{"data":{"name":"days"},"mark":{"type":"rule","color":"black","strokeDash":[3,2],"strokeWidth":1},
"encoding":{"x":{"field":"t","type":"temporal"}}},
{"data":{"name":"brand"},"mark":{"type":"rect","color":"#333333","opacity":0.72,"clip":false},
"encoding":{
"x":{"datum":{"year":2026,"month":2,"date":10,"hours":1,"minutes":22,"seconds":30,"utc":true},"type":"temporal"},
"x2":{"datum":{"year":2026,"month":2,"date":10,"hours":8,"minutes":52,"seconds":30,"utc":true}},
"y":{"datum":-0.000287},
"y2":{"datum":-0.001115}
}},
{"data":{"name":"brand"},"mark":{"type":"text","color":"#e6e6e6","font":"DejaVu Sans","fontSize":34,"align":"center","baseline":"middle"},
"encoding":{
"x":{"datum":{"year":2026,"month":2,"date":10,"hours":2,"minutes":32,"seconds":30,"utc":true},"type":"temporal"},
"y":{"datum":-0.000692},
"text":{"field":"icon"}
}},
{"data":{"name":"brand"},"mark":{"type":"text","color":"white","font":"DejaVu Sans","fontSize":26,"align":"left","baseline":"alphabetic"},
"encoding":{
"x":{"datum":{"year":2026,"month":2,"date":10,"hours":3,"minutes":22,"seconds":30,"utc":true},"type":"temporal"},
"y":{"datum":-0.000802},
"text":{"field":"name"}
}},
{"data":{"name":"brand"},"mark":{"type":"text","color":"#d8d8d8","font":"DejaVu Sans","fontSize":8.5,"align":"left","baseline":"alphabetic"},
"encoding":{
"x":{"datum":{"year":2026,"month":2,"date":10,"hours":3,"minutes":27,"seconds":30,"utc":true},"type":"temporal"},
"y":{"datum":-0.001041},
"text":{"field":"tagline"}
}}
]
}
]
}
